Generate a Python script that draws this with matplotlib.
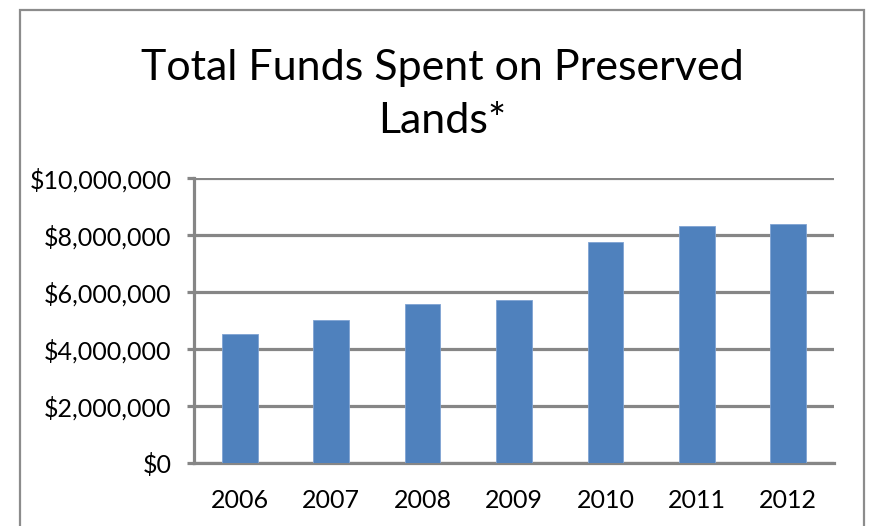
import matplotlib
matplotlib.use("Agg")
import matplotlib.pyplot as plt
from matplotlib.patches import Rectangle
from matplotlib.ticker import FuncFormatter

years = ["2006", "2007", "2008", "2009", "2010", "2011", "2012"]
funds = [4530000, 5020000, 5580000, 5720000, 7750000, 8310000, 8380000]
title_lines = ["Total Funds Spent on Preserved", "Lands*"]

W, H = 869, 526
plt.rcParams['font.family'] = ['Lato', 'DejaVu Sans']
fig = plt.figure(figsize=(W / 100, H / 100), dpi=100)

grid_c = "#868686"
# outer border
fig.patches.append(Rectangle((20 / W, -0.05), (864 - 20) / W, (H - 10) / H + 0.05,
                             transform=fig.transFigure, fill=False,
                             edgecolor="#8c8c8c", linewidth=1.6))

ax = fig.add_axes([194 / W, 63 / H, (834 - 194) / W, (463 - 178) / H])
x = range(len(years))
ax.bar(x, funds, width=0.39, color="#4F81BD", edgecolor="#7FA3D3", linewidth=0.6, zorder=3)
ax.set_xlim(-0.5, len(years) - 0.5)
ax.set_ylim(0, 10000000)
ax.set_yticks(range(0, 10000001, 2000000))
ax.yaxis.set_major_formatter(FuncFormatter(lambda v, p: "${:,.0f}".format(v)))
ax.set_xticks(list(x))
ax.set_xticklabels(years)
ax.grid(axis="y", color=grid_c, linewidth=2.3, zorder=1)
ax.set_axisbelow(True)
for s in ["top", "right"]:
    ax.spines[s].set_visible(False)
for s in ["left", "bottom"]:
    ax.spines[s].set_color(grid_c)
    ax.spines[s].set_linewidth(2.3)
ax.tick_params(axis="y", length=5, width=2.3, color=grid_c, labelsize=18, pad=11)
ax.tick_params(axis="x", length=0, labelsize=18, pad=19)

fig.text(442 / W, 1 - 80 / H, title_lines[0], ha="center", va="baseline", fontsize=31)
fig.text(442 / W, 1 - 133 / H, title_lines[1], ha="center", va="baseline", fontsize=31)

fig.savefig("out.png", dpi=100)
